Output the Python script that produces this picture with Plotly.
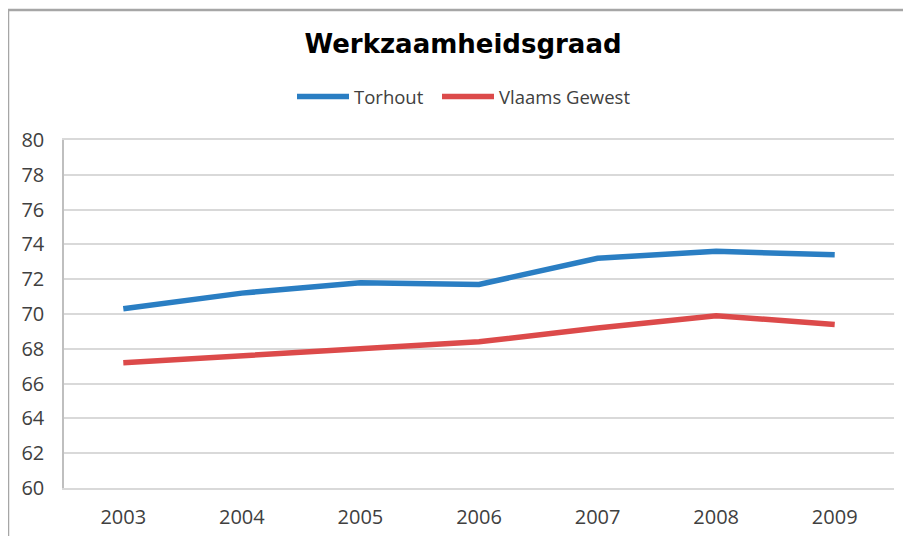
import plotly.graph_objects as go

years = ["2003", "2004", "2005", "2006", "2007", "2008", "2009"]
torhout = [70.3, 71.2, 71.8, 71.7, 73.2, 73.6, 73.4]
vlaams_gewest = [67.2, 67.6, 68.0, 68.4, 69.2, 69.9, 69.4]
y_ticks = [60, 62, 64, 66, 68, 70, 72, 74, 76, 78, 80]

# page has an 8px body margin; size the figure so page coords match target
OFF = 8
W, H = 911 - OFF, 536 - OFF
L, T = 64 - OFF, 140 - OFF
R = 911 - 894
B = 536 - 488
pw, ph = W - L - R, H - T - B

fig = go.Figure()
fig.add_trace(go.Scatter(x=years, y=torhout, mode="lines", name="Torhout",
                         line=dict(color="#2A7EC3", width=5.5), legend="legend"))
fig.add_trace(go.Scatter(x=years, y=vlaams_gewest, mode="lines", name="Vlaams Gewest",
                         line=dict(color="#DC4A4A", width=5.5), legend="legend2"))

grid = "#D9D9D9"
leg_font = dict(family="Open Sans", size=18.5, color="#404040")
fig.update_layout(
    width=W, height=H,
    margin=dict(l=L, r=R, t=T, b=B, pad=0, autoexpand=False),
    paper_bgcolor="white", plot_bgcolor="white",
    title=dict(text="<b>Werkzaamheidsgraad</b>", x=(463 - OFF) / W, xanchor="center",
               y=1 - (44 - OFF) / H, yanchor="middle",
               font=dict(family="DejaVu Sans", size=26, color="#000000")),
    legend=dict(orientation="h", x=(292 - OFF) / W, xanchor="left", xref="container",
                y=1 - (97 - OFF) / H, yanchor="middle", yref="container",
                font=leg_font, itemwidth=52, bgcolor="rgba(0,0,0,0)"),
    legend2=dict(orientation="h", x=(437 - OFF) / W, xanchor="left", xref="container",
                 y=1 - (97 - OFF) / H, yanchor="middle", yref="container",
                 font=leg_font, itemwidth=52, bgcolor="rgba(0,0,0,0)"),
    showlegend=True,
    xaxis=dict(type="category", range=[-0.5, 6.5], showgrid=False,
               showline=True, mirror=True, linecolor=grid, linewidth=2,
               ticks="", ticklabelstandoff=10, automargin=False,
               tickfont=dict(family="Open Sans", size=20, color="#404040"),
               fixedrange=True),
    yaxis=dict(range=[60, 80], tickvals=y_ticks, showgrid=True, gridcolor=grid,
               gridwidth=2, showline=True, linecolor="#BFBFBF", linewidth=1.5,
               zeroline=False, ticks="", ticklabelstandoff=14, automargin=False,
               tickfont=dict(family="Open Sans", size=20, color="#404040"),
               fixedrange=True),
)

# outer chart frame (left and top edges visible)
x0 = (8 - 64) / pw
ytop = (488 - 10) / ph
xright = (W + 20 - L) / pw
ybot = -(H + 20) / ph
fig.add_shape(type="path", xref="paper", yref="paper",
              path=f"M {x0} {ybot} L {x0} {ytop} L {xright} {ytop}",
              line=dict(color="#A6A6A6", width=2.5))

fig.write_html("out.html")
